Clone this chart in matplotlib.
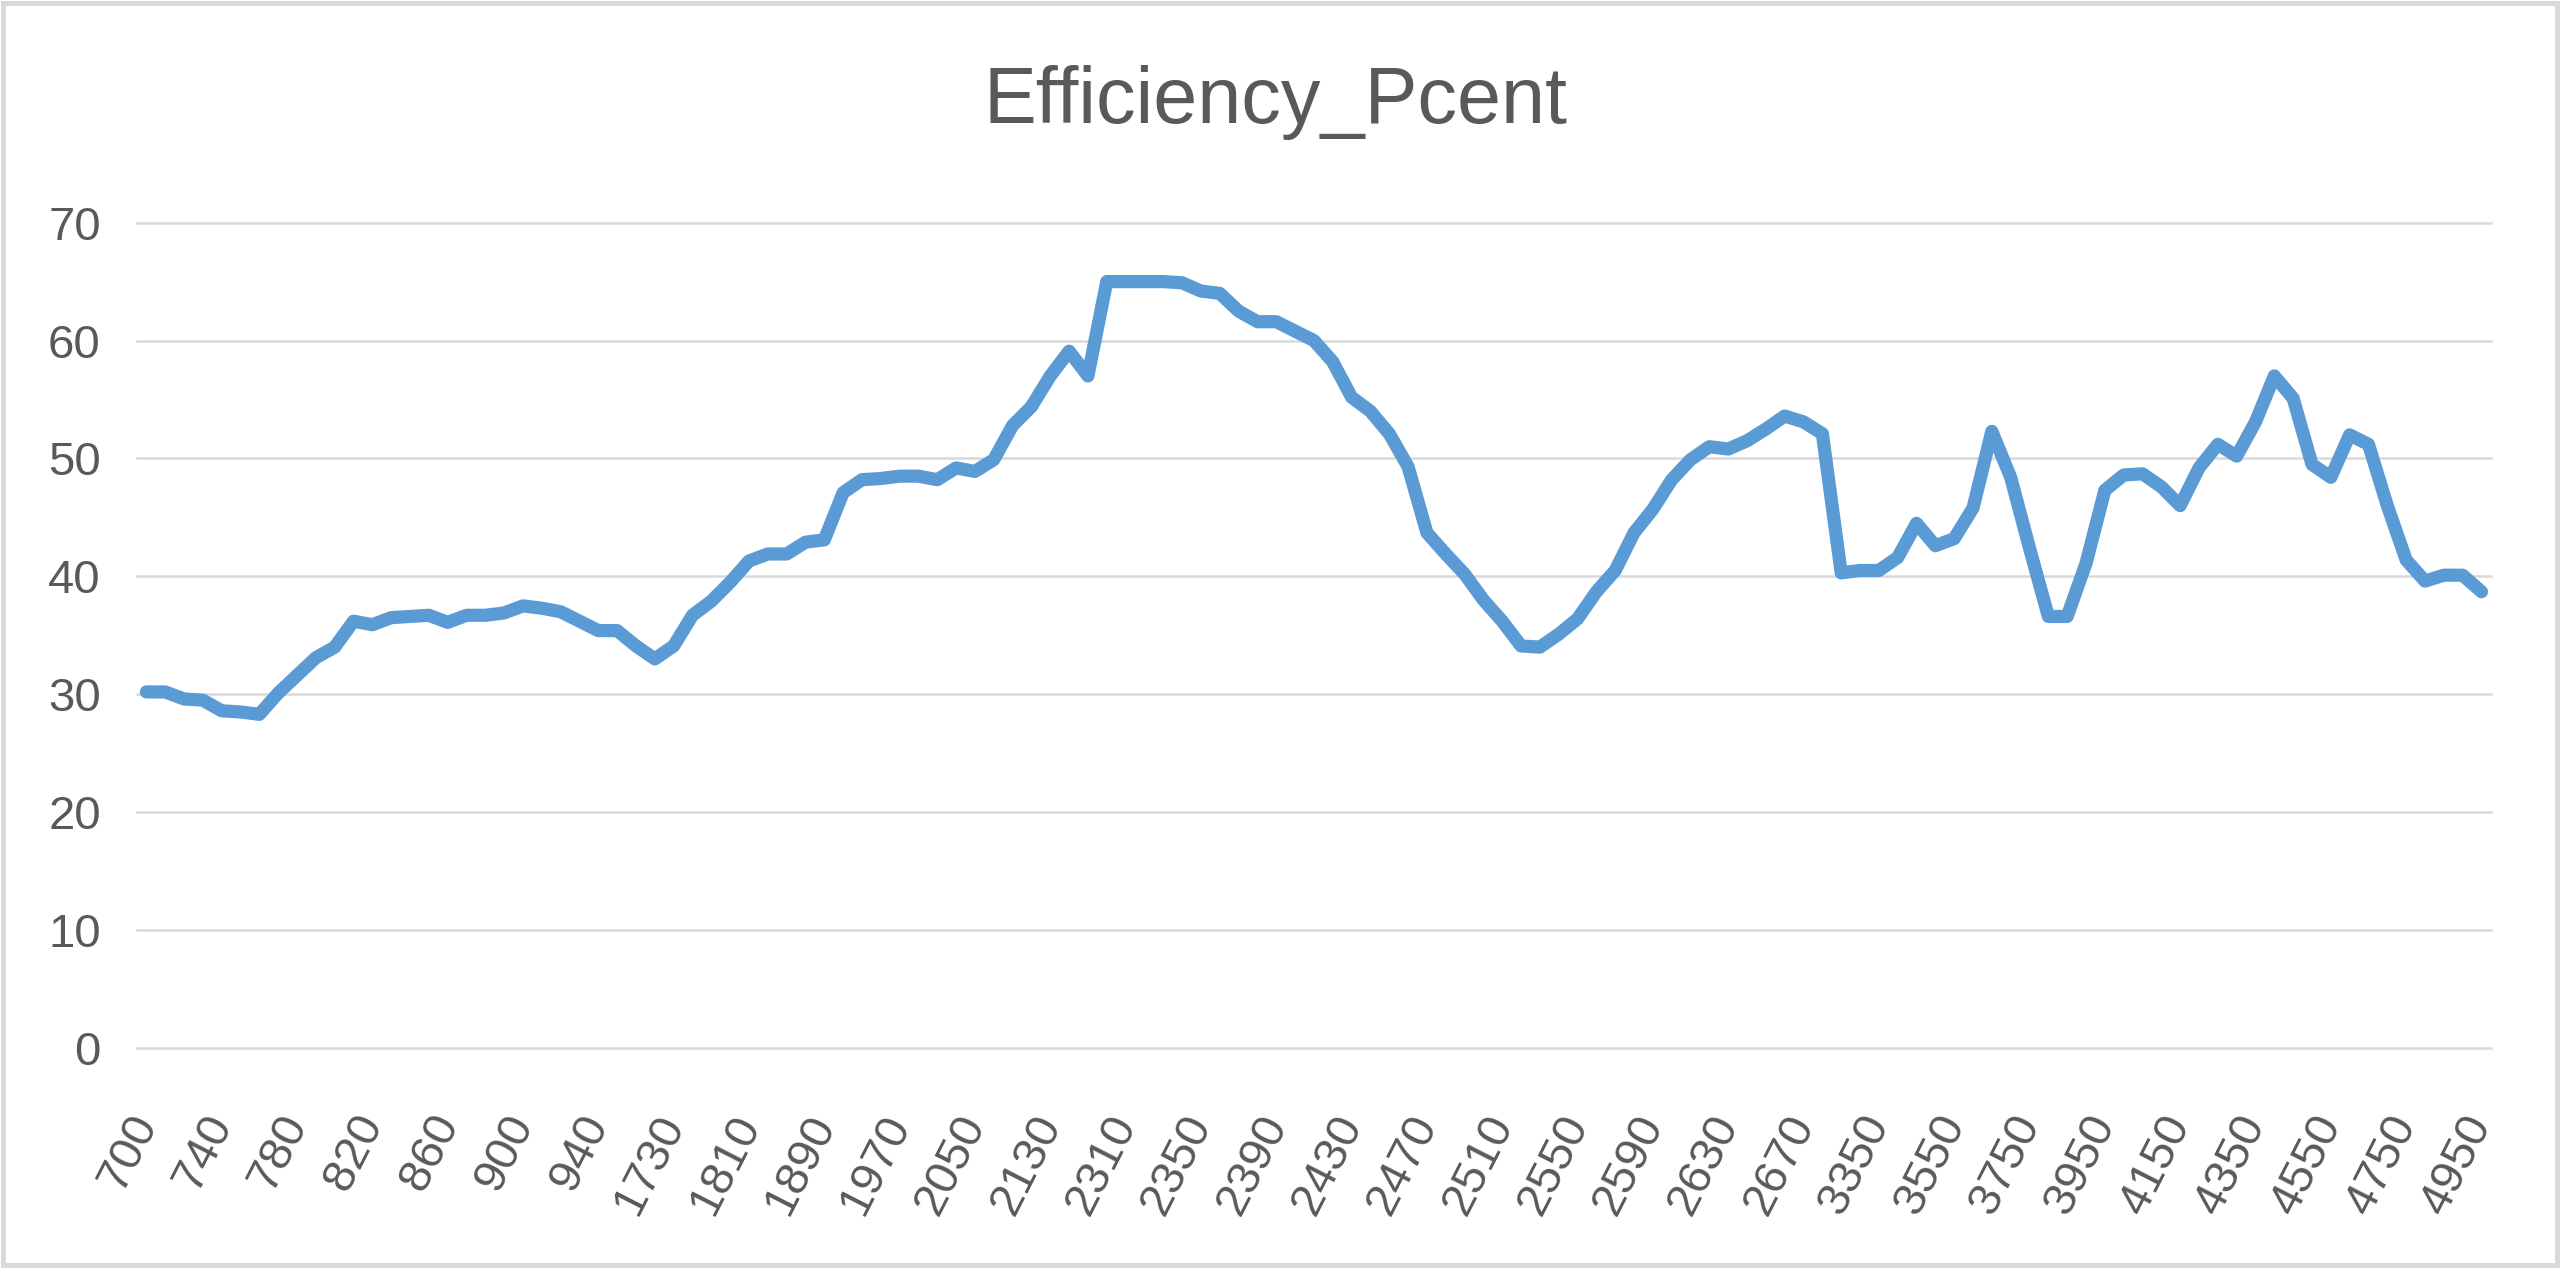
import matplotlib
matplotlib.use('Agg')
import matplotlib.pyplot as plt
from matplotlib.patches import Rectangle

# category labels (speed) and efficiency values
speed = [700, 710, 720, 730, 740, 750, 760, 770, 780, 790,
         800, 810, 820, 830, 840, 850, 860, 870, 880, 890,
         900, 910, 920, 930, 940, 950, 960, 970,
         1730, 1750, 1770, 1790, 1810, 1830, 1850, 1870, 1890, 1910,
         1930, 1950, 1970, 1990, 2010, 2030, 2050, 2070, 2090, 2110, 2130,
         2150, 2170, 2190,
         2310, 2320, 2330, 2340, 2350, 2360, 2370, 2380, 2390, 2400,
         2410, 2420, 2430, 2440, 2450, 2460, 2470, 2480, 2490, 2500,
         2510, 2520, 2530, 2540, 2550, 2560, 2570, 2580, 2590, 2600,
         2610, 2620, 2630, 2640, 2650, 2660, 2670,
         2680, 2690, 2700,
         3350, 3400, 3450, 3500, 3550, 3600, 3650, 3700, 3750, 3800,
         3850, 3900, 3950, 4000, 4050, 4100, 4150, 4200, 4250, 4300,
         4350, 4400, 4450, 4500, 4550, 4600, 4650, 4700, 4750, 4800,
         4850, 4900, 4950]

eff = [30.2, 30.2, 29.6, 29.5, 28.6, 28.5, 28.3, 30.1, 31.6, 33.1,
       34.0, 36.2, 35.9, 36.5, 36.6, 36.7, 36.1, 36.7, 36.7, 36.9,
       37.5, 37.3, 37.0, 36.2, 35.4, 35.4, 34.1, 33.0,
       34.1, 36.7, 37.9, 39.5, 41.3, 41.9, 41.9, 42.9, 43.1, 47.1,
       48.2, 48.3, 48.5, 48.5, 48.2, 49.2, 48.9, 49.9, 52.8, 54.4, 57.0,
       59.1, 57.0, 65.0,
       65.0, 65.0, 65.0, 64.9, 64.2, 64.0, 62.5, 61.6, 61.6, 60.8,
       60.0, 58.2, 55.2, 54.0, 52.1, 49.3, 43.7, 41.9, 40.2, 38.0,
       36.2, 34.1, 34.0, 35.1, 36.4, 38.7, 40.5, 43.7, 45.7, 48.2,
       49.9, 51.0, 50.8, 51.5, 52.5, 53.6, 53.1,
       52.1, 40.3, 40.5,
       40.5, 41.6, 44.5, 42.6, 43.2, 45.8, 52.3, 48.4, 42.4, 36.6,
       36.6, 41.1, 47.3, 48.6, 48.7, 47.6, 46.0, 49.2, 51.2, 50.2,
       53.1, 57.0, 55.1, 49.5, 48.4, 52.0, 51.2, 46.0, 41.4, 39.6,
       40.1, 40.1, 38.7]

title = 'Efficiency_Pcent'
grey = '#595959'

plt.rcParams['font.family'] = ['Liberation Sans', 'DejaVu Sans']

fig = plt.figure(figsize=(25.6, 12.68), dpi=100)
ax = fig.add_axes([0.0535, 0.1735, 0.9195, 0.6509])

x = list(range(len(speed)))
ax.plot(x, eff, color='#5b9bd5', lw=9.5, solid_joinstyle='round',
        solid_capstyle='round', zorder=3)

ax.set_xlim(-0.5, len(x) - 0.5)
ax.set_ylim(0, 70)
ax.set_yticks(range(0, 71, 10))
ax.grid(axis='y', color='#d9d9d9', lw=1.8)
ax.set_axisbelow(True)
for gl in ax.get_ygridlines():
    gl.set_clip_on(False)
for s in ax.spines.values():
    s.set_visible(False)

ax.set_xticks(x[::4])
ax.set_xticklabels(speed[::4], rotation=63, ha='right', va='center',
                   rotation_mode='anchor')
ax.tick_params(axis='both', length=0, labelsize=34, labelcolor=grey)
ax.tick_params(axis='y', pad=26)
ax.tick_params(axis='x', pad=50)

fig.text(0.4984, 0.903, title, ha='center', va='baseline', fontsize=57,
         color=grey)

# chart area border
fig.patches.append(Rectangle((0.0012, 0.002), 0.9976, 0.9956,
                             transform=fig.transFigure, fill=False,
                             ec='#d9d9d9', lw=3.6))

fig.savefig('out.png', dpi=100, facecolor='white')
